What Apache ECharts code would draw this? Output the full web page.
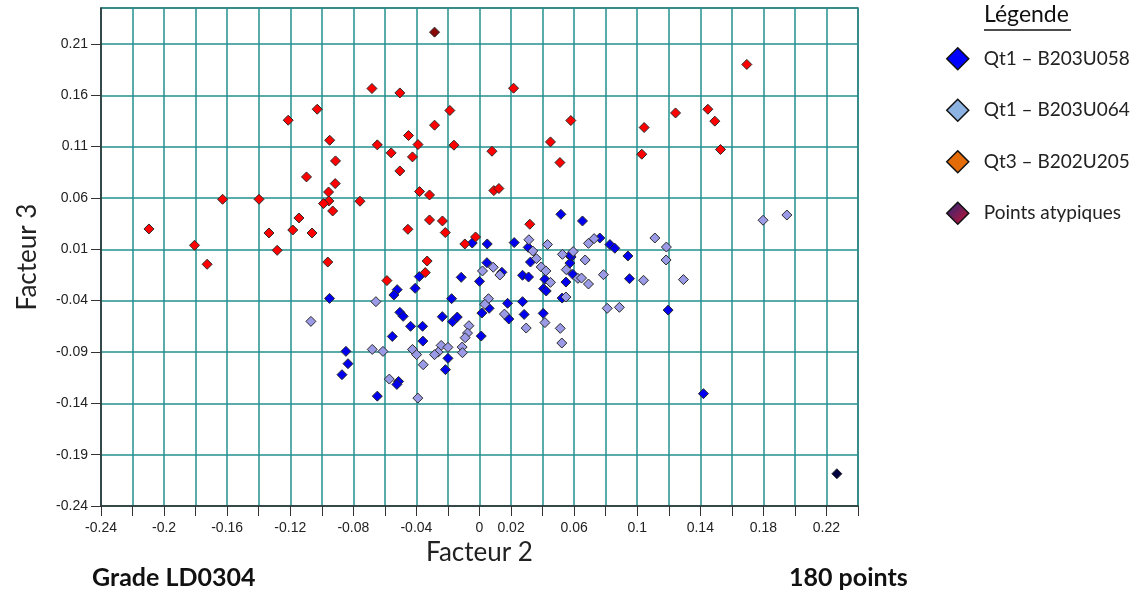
<!DOCTYPE html>
<html>
<head>
<meta charset="utf-8">
<script src="https://cdn.jsdelivr.net/npm/echarts@6/dist/echarts.min.js"></script>
<style>
  html, body { margin: 0; padding: 0; background: #fff; }
  #chart { width: 1137px; height: 591px; }
</style>
</head>
<body>
<div id="chart"></div>
<script>
// tick labels shown on the Facteur 2 axis (as in the original picture)
var xTickLabels = [-0.24, -0.2, -0.16, -0.12, -0.08, -0.04, 0, 0.02, 0.06, 0.1, 0.14, 0.18, 0.22];

var legendNames = ["Qt1 \u2013 B203U058", "Qt1 \u2013 B203U064", "Qt3 \u2013 B202U205", "Points atypiques"];

// Qt1 - B203U058 (blue)
var qt1B058 = [
  [0.0516, 0.0441], [0.0653, 0.0376], [-0.0046, 0.0161], [0.0049, 0.0152], [0.0220, 0.0165],
  [0.0309, 0.0119], [0.0763, 0.0210], [0.0827, 0.0146], [0.0858, 0.0110], [0.0941, 0.0035],
  [0.0581, 0.0025], [-0.0951, -0.0378], [0.0047, -0.0030], [0.0142, -0.0124], [-0.0116, -0.0173],
  [0.0, -0.0212], [-0.0382, -0.0166], [-0.0408, -0.0280], [-0.0522, -0.0293], [-0.0543, -0.0345],
  [-0.0177, -0.0381], [0.0273, -0.0153], [0.0311, -0.0170], [0.0323, -0.0024], [0.0573, -0.0034],
  [0.0548, -0.0219], [0.0406, -0.0283], [0.0423, -0.0306], [0.0415, -0.0192], [0.0524, -0.0375],
  [0.0592, -0.0144], [0.0575, 0.0042], [-0.0505, -0.0514], [-0.0484, -0.0553], [-0.0437, -0.0650],
  [-0.0361, -0.0650], [-0.0359, -0.0794], [-0.0553, -0.0749], [-0.0236, -0.0556], [-0.0171, -0.0605],
  [-0.0141, -0.0560], [0.0015, -0.0521], [0.0061, -0.0475], [0.0178, -0.0426], [0.0273, -0.0410],
  [0.0283, -0.0534], [0.0186, -0.0579], [0.0404, -0.0524], [0.0011, -0.0745], [-0.0847, -0.0894],
  [-0.0834, -0.1014], [-0.0872, -0.1121], [-0.0648, -0.1330], [-0.0513, -0.1187], [-0.0524, -0.1216],
  [-0.0200, -0.0962], [-0.0216, -0.1072], [0.0951, -0.0186], [0.1196, -0.0492], [0.1420, -0.1306]
];

// Qt1 - B203U064 (light blue)
var qt1B064 = [
  [0.1798, 0.0383], [0.1949, 0.0434], [0.1112, 0.0210], [0.1185, 0.0122], [0.0313, 0.0193],
  [0.0431, 0.0146], [0.0691, 0.0158], [0.0727, 0.0204], [0.0338, 0.0083], [0.0526, 0.0051],
  [0.0594, 0.0078], [-0.0657, -0.0410], [-0.1069, -0.0602], [-0.0680, -0.0875], [-0.0612, -0.0894],
  [-0.0572, -0.1164], [-0.0391, -0.1349], [-0.0425, -0.0875], [-0.0399, -0.0926], [-0.0357, -0.1024],
  [-0.0243, -0.0836], [-0.0200, -0.0855], [-0.0262, -0.0901], [-0.0285, -0.0926], [-0.0110, -0.0852],
  [-0.0108, -0.0907], [-0.0067, -0.0644], [-0.0076, -0.0716], [-0.0091, -0.0761], [0.0019, -0.0111],
  [0.0087, -0.0075], [0.0057, -0.0381], [0.0034, -0.0436], [0.0158, -0.0531], [0.0296, -0.0667],
  [0.0415, -0.0614], [0.0512, -0.0670], [0.0522, -0.0813], [0.0361, 0.0009], [0.0391, -0.0072],
  [0.0421, -0.0111], [0.0450, -0.0222], [0.0550, -0.0098], [0.0548, -0.0365], [0.0624, -0.0183],
  [0.0129, -0.0150], [0.1183, -0.0004], [0.0670, -0.0004], [0.0647, -0.0180], [0.0691, -0.0238],
  [0.0786, -0.0147], [0.1040, -0.0202], [0.1293, -0.0195], [0.0810, -0.0475], [0.0887, -0.0465]
];

// Qt3 - B202U205 (drawn red)
var qt3B205 = [
  [-0.0682, 0.1666], [-0.0505, 0.1623], [-0.1029, 0.1464], [-0.1213, 0.1357], [-0.0188, 0.1452],
  [-0.0285, 0.1309], [-0.0950, 0.1162], [-0.0450, 0.1208], [-0.0648, 0.1117], [-0.0390, 0.1120],
  [-0.0162, 0.1114], [-0.0560, 0.1039], [-0.0425, 0.1000], [-0.0913, 0.0961], [-0.0505, 0.0863],
  [-0.1097, 0.0805], [-0.0915, 0.0740], [-0.0957, 0.0658], [-0.0380, 0.0662], [-0.0317, 0.0629],
  [-0.1629, 0.0587], [-0.1398, 0.0587], [-0.0955, 0.0571], [-0.0989, 0.0545], [-0.0758, 0.0568],
  [-0.0931, 0.0473], [-0.1145, 0.0405], [-0.0317, 0.0386], [-0.0235, 0.0376], [-0.2096, 0.0298],
  [-0.1184, 0.0288], [-0.0454, 0.0295], [-0.1335, 0.0259], [-0.1062, 0.0259], [-0.0217, 0.0263],
  [-0.1807, 0.0139], [-0.0093, 0.0152], [-0.0025, 0.0220], [-0.1283, 0.0090], [-0.0962, -0.0024],
  [-0.0332, -0.0014], [-0.1727, -0.0046], [-0.0344, -0.0127], [-0.0587, -0.0205],
  [0.0216, 0.1669], [0.1695, 0.1900], [0.1243, 0.1428], [0.1448, 0.1464], [0.1492, 0.1348],
  [0.1044, 0.1286], [0.0579, 0.1354], [0.0450, 0.1146], [0.0079, 0.1055], [0.1528, 0.1072],
  [0.1029, 0.1026], [0.0510, 0.0945], [0.0091, 0.0672], [0.0123, 0.0692], [0.0319, 0.0344]
];

// outliers
var atypiques = [[-0.0285, 0.2215], [0.2266, -0.2086]];
var atypiquesColors = ["#8a0a0a", "#000040"];

var dom = document.getElementById("chart");
var myChart = echarts.init(dom, null, { renderer: "canvas" });

var calibri = "Lato, 'Open Sans', sans-serif";
var arial = "'Liberation Sans', Arial, sans-serif";
var gridColor = "#23908f";

function diamondSeries(name, data, color) {
  return {
    name: name,
    type: "scatter",
    symbol: "diamond",
    symbolSize: 10,
    data: data,
    itemStyle: { color: color, opacity: 1, borderColor: "#2a2a2a", borderWidth: 1 },
    emphasis: { disabled: true },
  };
}

var option = {
  animation: false,
  backgroundColor: "#fff",
  grid: {
    left: 101,
    right: 279,
    top: 8,
    bottom: 85,
    show: true,
    borderColor: "#555",
    borderWidth: 1.5,
  },
  legend: {
    orient: "vertical",
    left: 941,
    top: 42,
    itemWidth: 22,
    itemHeight: 22,
    itemGap: 28,
    icon: "diamond",
    selectedMode: false,
    textStyle: { fontFamily: calibri, fontSize: 19, color: "#222", padding: [0, 0, 0, 10] },
    data: [
      { name: legendNames[0], itemStyle: { color: "#0000ff", borderColor: "#111", borderWidth: 1.5 } },
      { name: legendNames[1], itemStyle: { color: "#8db3e2", borderColor: "#111", borderWidth: 1.5 } },
      { name: legendNames[2], itemStyle: { color: "#e36c09", borderColor: "#111", borderWidth: 1.5 } },
      {
        name: legendNames[3],
        itemStyle: {
          color: new echarts.graphic.LinearGradient(0, 0, 1, 1, [
            { offset: 0, color: "#1f2a80" },
            { offset: 1, color: "#d0102a" },
          ]),
          borderColor: "#111",
          borderWidth: 1.5,
        },
      },
    ],
  },
  graphic: [
    {
      type: "text",
      left: 984,
      top: 3,
      style: { text: "L\u00e9gende", font: "23px " + calibri, fill: "#111" },
    },
    {
      type: "line",
      shape: { x1: 984, y1: 30, x2: 1071, y2: 30 },
      style: { stroke: "#111", lineWidth: 1.5 },
    },
    {
      type: "text",
      left: 92,
      top: 565,
      style: { text: "Grade LD0304", font: "bold 25px " + calibri, fill: "#111" },
    },
    {
      type: "text",
      left: 789,
      top: 565,
      style: { text: "180 points", font: "bold 25px " + calibri, fill: "#111" },
    },
  ],
  xAxis: {
    type: "value",
    min: -0.24,
    max: 0.24,
    interval: 0.02,
    name: "Facteur 2",
    nameLocation: "middle",
    nameGap: 34,
    nameTextStyle: { fontFamily: calibri, fontSize: 26, color: "#222" },
    axisLine: { show: true, onZero: false, lineStyle: { color: "#333", width: 1.5 } },
    axisTick: { show: true, length: 10, lineStyle: { color: "#333" } },
    axisLabel: {
      interval: 0,
      margin: 15,
      fontFamily: arial,
      fontSize: 14,
      color: "#222",
      formatter: function (v) {
        for (var i = 0; i < xTickLabels.length; i++) {
          if (Math.abs(v - xTickLabels[i]) < 1e-6) return String(xTickLabels[i]);
        }
        return "";
      },
    },
    splitLine: { show: true, lineStyle: { color: gridColor, width: 1.5 } },
  },
  yAxis: {
    type: "value",
    min: -0.24,
    max: 0.245,
    interval: 0.05,
    name: "Facteur 3",
    nameLocation: "middle",
    nameGap: 60,
    nameTextStyle: { fontFamily: calibri, fontSize: 26, color: "#222" },
    axisLine: { show: true, onZero: false, lineStyle: { color: "#333", width: 1.5 } },
    axisTick: { show: true, length: 10, lineStyle: { color: "#333" } },
    axisLabel: {
      margin: 13,
      fontFamily: arial,
      fontSize: 14,
      color: "#222",
      showMaxLabel: false,
      formatter: function (v) {
        return String(Math.round(v * 100) / 100);
      },
    },
    splitLine: { show: true, lineStyle: { color: gridColor, width: 1.5 } },
  },
  series: [
    diamondSeries(legendNames[0], qt1B058, "#0000ee"),
    diamondSeries(legendNames[1], qt1B064, "#9a9ae6"),
    diamondSeries(legendNames[2], qt3B205, "#ff0000"),
    {
      name: legendNames[3],
      type: "scatter",
      symbol: "diamond",
      symbolSize: 10,
      itemStyle: { color: "#000040", opacity: 1, borderColor: "#2a2a2a", borderWidth: 1 },
      emphasis: { disabled: true },
      data: atypiques.map(function (p, i) {
        return { value: p, itemStyle: { color: atypiquesColors[i] } };
      }),
    },
  ],
};

if (option && typeof option === "object") {
  myChart.setOption(option);
}
window.addEventListener("resize", myChart.resize);
</script>
</body>
</html>
